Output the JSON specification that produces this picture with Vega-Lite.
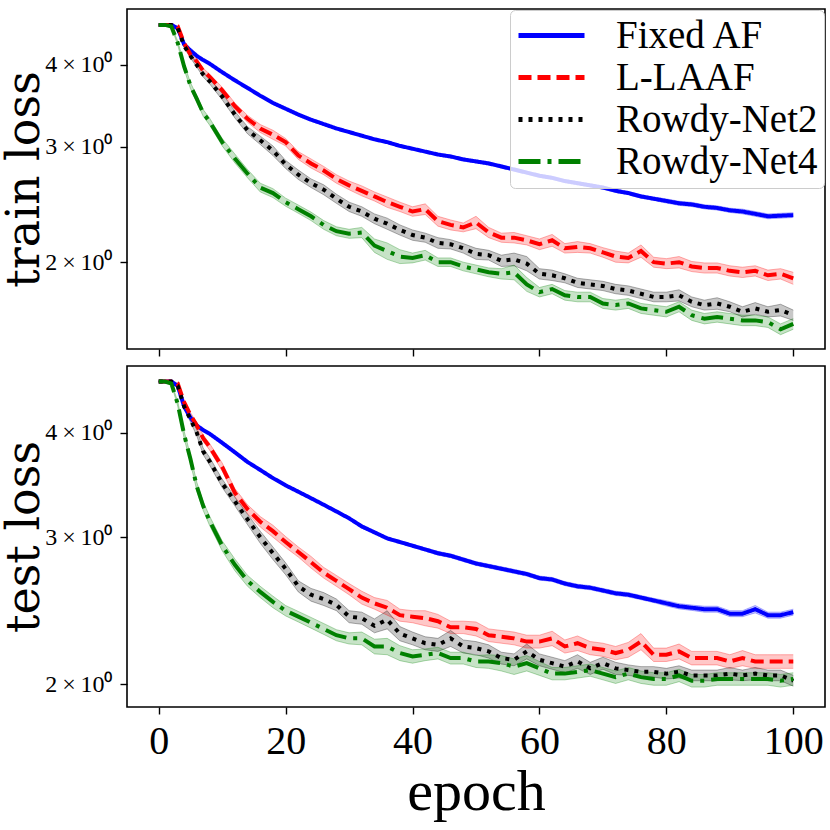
{
  "$schema": "https://vega.github.io/schema/vega-lite/v6.json",
  "background": "white",
  "padding": {"left": 0, "top": 8, "right": 7, "bottom": 0},
  "datasets": {
    "train": [
      {"model": "Fixed AF", "epoch": 0, "loss": 4.605, "err": 0},
      {"model": "Fixed AF", "epoch": 1, "loss": 4.605, "err": 0},
      {"model": "Fixed AF", "epoch": 2, "loss": 4.605, "err": 0},
      {"model": "Fixed AF", "epoch": 3, "loss": 4.55, "err": 0.005},
      {"model": "Fixed AF", "epoch": 4, "loss": 4.30, "err": 0.01},
      {"model": "Fixed AF", "epoch": 5, "loss": 4.21, "err": 0.012},
      {"model": "Fixed AF", "epoch": 6, "loss": 4.13, "err": 0.012},
      {"model": "Fixed AF", "epoch": 7, "loss": 4.07, "err": 0.012},
      {"model": "Fixed AF", "epoch": 8, "loss": 4.02, "err": 0.012},
      {"model": "Fixed AF", "epoch": 10, "loss": 3.90, "err": 0.012},
      {"model": "Fixed AF", "epoch": 12, "loss": 3.79, "err": 0.012},
      {"model": "Fixed AF", "epoch": 14, "loss": 3.69, "err": 0.012},
      {"model": "Fixed AF", "epoch": 16, "loss": 3.59, "err": 0.012},
      {"model": "Fixed AF", "epoch": 18, "loss": 3.50, "err": 0.012},
      {"model": "Fixed AF", "epoch": 20, "loss": 3.43, "err": 0.012},
      {"model": "Fixed AF", "epoch": 22, "loss": 3.36, "err": 0.012},
      {"model": "Fixed AF", "epoch": 24, "loss": 3.30, "err": 0.012},
      {"model": "Fixed AF", "epoch": 26, "loss": 3.25, "err": 0.012},
      {"model": "Fixed AF", "epoch": 28, "loss": 3.20, "err": 0.012},
      {"model": "Fixed AF", "epoch": 30, "loss": 3.16, "err": 0.012},
      {"model": "Fixed AF", "epoch": 32, "loss": 3.12, "err": 0.012},
      {"model": "Fixed AF", "epoch": 34, "loss": 3.08, "err": 0.012},
      {"model": "Fixed AF", "epoch": 36, "loss": 3.05, "err": 0.012},
      {"model": "Fixed AF", "epoch": 38, "loss": 3.01, "err": 0.012},
      {"model": "Fixed AF", "epoch": 40, "loss": 2.98, "err": 0.012},
      {"model": "Fixed AF", "epoch": 42, "loss": 2.95, "err": 0.012},
      {"model": "Fixed AF", "epoch": 44, "loss": 2.92, "err": 0.012},
      {"model": "Fixed AF", "epoch": 46, "loss": 2.90, "err": 0.015},
      {"model": "Fixed AF", "epoch": 48, "loss": 2.87, "err": 0.015},
      {"model": "Fixed AF", "epoch": 50, "loss": 2.85, "err": 0.015},
      {"model": "Fixed AF", "epoch": 52, "loss": 2.83, "err": 0.015},
      {"model": "Fixed AF", "epoch": 54, "loss": 2.80, "err": 0.015},
      {"model": "Fixed AF", "epoch": 56, "loss": 2.77, "err": 0.015},
      {"model": "Fixed AF", "epoch": 58, "loss": 2.74, "err": 0.015},
      {"model": "Fixed AF", "epoch": 60, "loss": 2.71, "err": 0.015},
      {"model": "Fixed AF", "epoch": 62, "loss": 2.69, "err": 0.015},
      {"model": "Fixed AF", "epoch": 64, "loss": 2.66, "err": 0.015},
      {"model": "Fixed AF", "epoch": 66, "loss": 2.64, "err": 0.015},
      {"model": "Fixed AF", "epoch": 68, "loss": 2.62, "err": 0.015},
      {"model": "Fixed AF", "epoch": 70, "loss": 2.60, "err": 0.015},
      {"model": "Fixed AF", "epoch": 72, "loss": 2.57, "err": 0.015},
      {"model": "Fixed AF", "epoch": 74, "loss": 2.55, "err": 0.015},
      {"model": "Fixed AF", "epoch": 76, "loss": 2.52, "err": 0.015},
      {"model": "Fixed AF", "epoch": 78, "loss": 2.50, "err": 0.015},
      {"model": "Fixed AF", "epoch": 80, "loss": 2.48, "err": 0.018},
      {"model": "Fixed AF", "epoch": 82, "loss": 2.46, "err": 0.018},
      {"model": "Fixed AF", "epoch": 84, "loss": 2.45, "err": 0.018},
      {"model": "Fixed AF", "epoch": 86, "loss": 2.43, "err": 0.018},
      {"model": "Fixed AF", "epoch": 88, "loss": 2.42, "err": 0.018},
      {"model": "Fixed AF", "epoch": 90, "loss": 2.40, "err": 0.018},
      {"model": "Fixed AF", "epoch": 92, "loss": 2.39, "err": 0.02},
      {"model": "Fixed AF", "epoch": 94, "loss": 2.37, "err": 0.02},
      {"model": "Fixed AF", "epoch": 96, "loss": 2.35, "err": 0.02},
      {"model": "Fixed AF", "epoch": 98, "loss": 2.355, "err": 0.02},
      {"model": "Fixed AF", "epoch": 100, "loss": 2.36, "err": 0.02},
      {"model": "L-LAAF", "epoch": 0, "loss": 4.605, "err": 0},
      {"model": "L-LAAF", "epoch": 1, "loss": 4.605, "err": 0},
      {"model": "L-LAAF", "epoch": 2, "loss": 4.605, "err": 0},
      {"model": "L-LAAF", "epoch": 3, "loss": 4.58, "err": 0.01},
      {"model": "L-LAAF", "epoch": 4, "loss": 4.32, "err": 0.03},
      {"model": "L-LAAF", "epoch": 5, "loss": 4.15, "err": 0.03},
      {"model": "L-LAAF", "epoch": 6, "loss": 4.05, "err": 0.03},
      {"model": "L-LAAF", "epoch": 7, "loss": 3.92, "err": 0.035},
      {"model": "L-LAAF", "epoch": 8, "loss": 3.84, "err": 0.035},
      {"model": "L-LAAF", "epoch": 10, "loss": 3.66, "err": 0.04},
      {"model": "L-LAAF", "epoch": 12, "loss": 3.46, "err": 0.04},
      {"model": "L-LAAF", "epoch": 14, "loss": 3.31, "err": 0.04},
      {"model": "L-LAAF", "epoch": 16, "loss": 3.20, "err": 0.045},
      {"model": "L-LAAF", "epoch": 18, "loss": 3.13, "err": 0.05},
      {"model": "L-LAAF", "epoch": 20, "loss": 3.05, "err": 0.04},
      {"model": "L-LAAF", "epoch": 22, "loss": 2.91, "err": 0.04},
      {"model": "L-LAAF", "epoch": 24, "loss": 2.83, "err": 0.045},
      {"model": "L-LAAF", "epoch": 26, "loss": 2.76, "err": 0.04},
      {"model": "L-LAAF", "epoch": 28, "loss": 2.68, "err": 0.04},
      {"model": "L-LAAF", "epoch": 30, "loss": 2.62, "err": 0.04},
      {"model": "L-LAAF", "epoch": 32, "loss": 2.57, "err": 0.045},
      {"model": "L-LAAF", "epoch": 34, "loss": 2.52, "err": 0.04},
      {"model": "L-LAAF", "epoch": 36, "loss": 2.47, "err": 0.045},
      {"model": "L-LAAF", "epoch": 38, "loss": 2.43, "err": 0.04},
      {"model": "L-LAAF", "epoch": 40, "loss": 2.39, "err": 0.04},
      {"model": "L-LAAF", "epoch": 42, "loss": 2.41, "err": 0.045},
      {"model": "L-LAAF", "epoch": 44, "loss": 2.31, "err": 0.04},
      {"model": "L-LAAF", "epoch": 46, "loss": 2.28, "err": 0.04},
      {"model": "L-LAAF", "epoch": 48, "loss": 2.26, "err": 0.035},
      {"model": "L-LAAF", "epoch": 50, "loss": 2.30, "err": 0.05},
      {"model": "L-LAAF", "epoch": 52, "loss": 2.22, "err": 0.04},
      {"model": "L-LAAF", "epoch": 54, "loss": 2.18, "err": 0.035},
      {"model": "L-LAAF", "epoch": 56, "loss": 2.18, "err": 0.04},
      {"model": "L-LAAF", "epoch": 58, "loss": 2.16, "err": 0.035},
      {"model": "L-LAAF", "epoch": 60, "loss": 2.13, "err": 0.04},
      {"model": "L-LAAF", "epoch": 62, "loss": 2.16, "err": 0.045},
      {"model": "L-LAAF", "epoch": 64, "loss": 2.10, "err": 0.035},
      {"model": "L-LAAF", "epoch": 66, "loss": 2.11, "err": 0.04},
      {"model": "L-LAAF", "epoch": 68, "loss": 2.10, "err": 0.035},
      {"model": "L-LAAF", "epoch": 70, "loss": 2.07, "err": 0.035},
      {"model": "L-LAAF", "epoch": 72, "loss": 2.04, "err": 0.04},
      {"model": "L-LAAF", "epoch": 74, "loss": 2.03, "err": 0.035},
      {"model": "L-LAAF", "epoch": 76, "loss": 2.08, "err": 0.045},
      {"model": "L-LAAF", "epoch": 78, "loss": 2.00, "err": 0.035},
      {"model": "L-LAAF", "epoch": 80, "loss": 1.99, "err": 0.035},
      {"model": "L-LAAF", "epoch": 82, "loss": 2.00, "err": 0.04},
      {"model": "L-LAAF", "epoch": 84, "loss": 1.97, "err": 0.035},
      {"model": "L-LAAF", "epoch": 86, "loss": 1.96, "err": 0.035},
      {"model": "L-LAAF", "epoch": 88, "loss": 1.96, "err": 0.035},
      {"model": "L-LAAF", "epoch": 90, "loss": 1.94, "err": 0.035},
      {"model": "L-LAAF", "epoch": 92, "loss": 1.93, "err": 0.035},
      {"model": "L-LAAF", "epoch": 94, "loss": 1.94, "err": 0.035},
      {"model": "L-LAAF", "epoch": 96, "loss": 1.91, "err": 0.035},
      {"model": "L-LAAF", "epoch": 98, "loss": 1.92, "err": 0.035},
      {"model": "L-LAAF", "epoch": 100, "loss": 1.89, "err": 0.04},
      {"model": "Rowdy-Net2", "epoch": 0, "loss": 4.605, "err": 0},
      {"model": "Rowdy-Net2", "epoch": 1, "loss": 4.605, "err": 0},
      {"model": "Rowdy-Net2", "epoch": 2, "loss": 4.605, "err": 0},
      {"model": "Rowdy-Net2", "epoch": 3, "loss": 4.55, "err": 0.01},
      {"model": "Rowdy-Net2", "epoch": 4, "loss": 4.28, "err": 0.03},
      {"model": "Rowdy-Net2", "epoch": 5, "loss": 4.13, "err": 0.03},
      {"model": "Rowdy-Net2", "epoch": 6, "loss": 4.00, "err": 0.03},
      {"model": "Rowdy-Net2", "epoch": 7, "loss": 3.87, "err": 0.035},
      {"model": "Rowdy-Net2", "epoch": 8, "loss": 3.78, "err": 0.035},
      {"model": "Rowdy-Net2", "epoch": 10, "loss": 3.58, "err": 0.04},
      {"model": "Rowdy-Net2", "epoch": 12, "loss": 3.36, "err": 0.04},
      {"model": "Rowdy-Net2", "epoch": 14, "loss": 3.18, "err": 0.04},
      {"model": "Rowdy-Net2", "epoch": 16, "loss": 3.07, "err": 0.045},
      {"model": "Rowdy-Net2", "epoch": 18, "loss": 2.96, "err": 0.05},
      {"model": "Rowdy-Net2", "epoch": 20, "loss": 2.82, "err": 0.04},
      {"model": "Rowdy-Net2", "epoch": 22, "loss": 2.72, "err": 0.045},
      {"model": "Rowdy-Net2", "epoch": 24, "loss": 2.64, "err": 0.04},
      {"model": "Rowdy-Net2", "epoch": 26, "loss": 2.58, "err": 0.045},
      {"model": "Rowdy-Net2", "epoch": 28, "loss": 2.50, "err": 0.04},
      {"model": "Rowdy-Net2", "epoch": 30, "loss": 2.43, "err": 0.04},
      {"model": "Rowdy-Net2", "epoch": 32, "loss": 2.39, "err": 0.04},
      {"model": "Rowdy-Net2", "epoch": 34, "loss": 2.33, "err": 0.04},
      {"model": "Rowdy-Net2", "epoch": 36, "loss": 2.29, "err": 0.045},
      {"model": "Rowdy-Net2", "epoch": 38, "loss": 2.24, "err": 0.04},
      {"model": "Rowdy-Net2", "epoch": 40, "loss": 2.20, "err": 0.04},
      {"model": "Rowdy-Net2", "epoch": 42, "loss": 2.18, "err": 0.035},
      {"model": "Rowdy-Net2", "epoch": 44, "loss": 2.14, "err": 0.04},
      {"model": "Rowdy-Net2", "epoch": 46, "loss": 2.13, "err": 0.035},
      {"model": "Rowdy-Net2", "epoch": 48, "loss": 2.10, "err": 0.035},
      {"model": "Rowdy-Net2", "epoch": 50, "loss": 2.06, "err": 0.04},
      {"model": "Rowdy-Net2", "epoch": 52, "loss": 2.05, "err": 0.035},
      {"model": "Rowdy-Net2", "epoch": 54, "loss": 2.01, "err": 0.04},
      {"model": "Rowdy-Net2", "epoch": 56, "loss": 2.02, "err": 0.045},
      {"model": "Rowdy-Net2", "epoch": 58, "loss": 1.99, "err": 0.05},
      {"model": "Rowdy-Net2", "epoch": 60, "loss": 1.92, "err": 0.035},
      {"model": "Rowdy-Net2", "epoch": 62, "loss": 1.91, "err": 0.035},
      {"model": "Rowdy-Net2", "epoch": 64, "loss": 1.89, "err": 0.03},
      {"model": "Rowdy-Net2", "epoch": 66, "loss": 1.86, "err": 0.03},
      {"model": "Rowdy-Net2", "epoch": 68, "loss": 1.85, "err": 0.03},
      {"model": "Rowdy-Net2", "epoch": 70, "loss": 1.84, "err": 0.03},
      {"model": "Rowdy-Net2", "epoch": 72, "loss": 1.82, "err": 0.03},
      {"model": "Rowdy-Net2", "epoch": 74, "loss": 1.81, "err": 0.03},
      {"model": "Rowdy-Net2", "epoch": 76, "loss": 1.79, "err": 0.03},
      {"model": "Rowdy-Net2", "epoch": 78, "loss": 1.77, "err": 0.03},
      {"model": "Rowdy-Net2", "epoch": 80, "loss": 1.77, "err": 0.03},
      {"model": "Rowdy-Net2", "epoch": 82, "loss": 1.78, "err": 0.035},
      {"model": "Rowdy-Net2", "epoch": 84, "loss": 1.74, "err": 0.03},
      {"model": "Rowdy-Net2", "epoch": 86, "loss": 1.72, "err": 0.03},
      {"model": "Rowdy-Net2", "epoch": 88, "loss": 1.73, "err": 0.035},
      {"model": "Rowdy-Net2", "epoch": 90, "loss": 1.71, "err": 0.03},
      {"model": "Rowdy-Net2", "epoch": 92, "loss": 1.68, "err": 0.03},
      {"model": "Rowdy-Net2", "epoch": 94, "loss": 1.70, "err": 0.035},
      {"model": "Rowdy-Net2", "epoch": 96, "loss": 1.68, "err": 0.03},
      {"model": "Rowdy-Net2", "epoch": 98, "loss": 1.69, "err": 0.035},
      {"model": "Rowdy-Net2", "epoch": 100, "loss": 1.66, "err": 0.03},
      {"model": "Rowdy-Net4", "epoch": 0, "loss": 4.605, "err": 0},
      {"model": "Rowdy-Net4", "epoch": 1, "loss": 4.605, "err": 0},
      {"model": "Rowdy-Net4", "epoch": 2, "loss": 4.58, "err": 0.01},
      {"model": "Rowdy-Net4", "epoch": 3, "loss": 4.32, "err": 0.03},
      {"model": "Rowdy-Net4", "epoch": 4, "loss": 3.98, "err": 0.04},
      {"model": "Rowdy-Net4", "epoch": 5, "loss": 3.72, "err": 0.04},
      {"model": "Rowdy-Net4", "epoch": 6, "loss": 3.55, "err": 0.04},
      {"model": "Rowdy-Net4", "epoch": 7, "loss": 3.38, "err": 0.04},
      {"model": "Rowdy-Net4", "epoch": 8, "loss": 3.28, "err": 0.04},
      {"model": "Rowdy-Net4", "epoch": 10, "loss": 3.05, "err": 0.04},
      {"model": "Rowdy-Net4", "epoch": 12, "loss": 2.88, "err": 0.045},
      {"model": "Rowdy-Net4", "epoch": 14, "loss": 2.73, "err": 0.04},
      {"model": "Rowdy-Net4", "epoch": 16, "loss": 2.60, "err": 0.04},
      {"model": "Rowdy-Net4", "epoch": 18, "loss": 2.55, "err": 0.04},
      {"model": "Rowdy-Net4", "epoch": 20, "loss": 2.47, "err": 0.035},
      {"model": "Rowdy-Net4", "epoch": 22, "loss": 2.41, "err": 0.035},
      {"model": "Rowdy-Net4", "epoch": 24, "loss": 2.35, "err": 0.035},
      {"model": "Rowdy-Net4", "epoch": 26, "loss": 2.28, "err": 0.035},
      {"model": "Rowdy-Net4", "epoch": 28, "loss": 2.23, "err": 0.035},
      {"model": "Rowdy-Net4", "epoch": 30, "loss": 2.21, "err": 0.035},
      {"model": "Rowdy-Net4", "epoch": 32, "loss": 2.22, "err": 0.04},
      {"model": "Rowdy-Net4", "epoch": 34, "loss": 2.12, "err": 0.05},
      {"model": "Rowdy-Net4", "epoch": 36, "loss": 2.08, "err": 0.06},
      {"model": "Rowdy-Net4", "epoch": 38, "loss": 2.04, "err": 0.05},
      {"model": "Rowdy-Net4", "epoch": 40, "loss": 2.03, "err": 0.035},
      {"model": "Rowdy-Net4", "epoch": 42, "loss": 2.05, "err": 0.035},
      {"model": "Rowdy-Net4", "epoch": 44, "loss": 2.00, "err": 0.03},
      {"model": "Rowdy-Net4", "epoch": 46, "loss": 2.00, "err": 0.03},
      {"model": "Rowdy-Net4", "epoch": 48, "loss": 1.97, "err": 0.03},
      {"model": "Rowdy-Net4", "epoch": 50, "loss": 1.95, "err": 0.03},
      {"model": "Rowdy-Net4", "epoch": 52, "loss": 1.93, "err": 0.03},
      {"model": "Rowdy-Net4", "epoch": 54, "loss": 1.92, "err": 0.035},
      {"model": "Rowdy-Net4", "epoch": 56, "loss": 1.93, "err": 0.05},
      {"model": "Rowdy-Net4", "epoch": 58, "loss": 1.85, "err": 0.045},
      {"model": "Rowdy-Net4", "epoch": 60, "loss": 1.80, "err": 0.03},
      {"model": "Rowdy-Net4", "epoch": 62, "loss": 1.82, "err": 0.03},
      {"model": "Rowdy-Net4", "epoch": 64, "loss": 1.78, "err": 0.03},
      {"model": "Rowdy-Net4", "epoch": 66, "loss": 1.77, "err": 0.03},
      {"model": "Rowdy-Net4", "epoch": 68, "loss": 1.77, "err": 0.03},
      {"model": "Rowdy-Net4", "epoch": 70, "loss": 1.73, "err": 0.03},
      {"model": "Rowdy-Net4", "epoch": 72, "loss": 1.72, "err": 0.03},
      {"model": "Rowdy-Net4", "epoch": 74, "loss": 1.73, "err": 0.03},
      {"model": "Rowdy-Net4", "epoch": 76, "loss": 1.70, "err": 0.03},
      {"model": "Rowdy-Net4", "epoch": 78, "loss": 1.69, "err": 0.03},
      {"model": "Rowdy-Net4", "epoch": 80, "loss": 1.68, "err": 0.03},
      {"model": "Rowdy-Net4", "epoch": 82, "loss": 1.71, "err": 0.03},
      {"model": "Rowdy-Net4", "epoch": 84, "loss": 1.66, "err": 0.03},
      {"model": "Rowdy-Net4", "epoch": 86, "loss": 1.64, "err": 0.03},
      {"model": "Rowdy-Net4", "epoch": 88, "loss": 1.65, "err": 0.03},
      {"model": "Rowdy-Net4", "epoch": 90, "loss": 1.64, "err": 0.03},
      {"model": "Rowdy-Net4", "epoch": 92, "loss": 1.63, "err": 0.03},
      {"model": "Rowdy-Net4", "epoch": 94, "loss": 1.63, "err": 0.03},
      {"model": "Rowdy-Net4", "epoch": 96, "loss": 1.62, "err": 0.03},
      {"model": "Rowdy-Net4", "epoch": 98, "loss": 1.58, "err": 0.03},
      {"model": "Rowdy-Net4", "epoch": 100, "loss": 1.61, "err": 0.03}
    ],
    "test": [
      {"model": "Fixed AF", "epoch": 0, "loss": 4.605, "err": 0},
      {"model": "Fixed AF", "epoch": 1, "loss": 4.605, "err": 0},
      {"model": "Fixed AF", "epoch": 2, "loss": 4.605, "err": 0},
      {"model": "Fixed AF", "epoch": 3, "loss": 4.55, "err": 0.005},
      {"model": "Fixed AF", "epoch": 4, "loss": 4.30, "err": 0.01},
      {"model": "Fixed AF", "epoch": 5, "loss": 4.17, "err": 0.012},
      {"model": "Fixed AF", "epoch": 6, "loss": 4.08, "err": 0.012},
      {"model": "Fixed AF", "epoch": 7, "loss": 4.03, "err": 0.012},
      {"model": "Fixed AF", "epoch": 8, "loss": 3.99, "err": 0.012},
      {"model": "Fixed AF", "epoch": 10, "loss": 3.89, "err": 0.012},
      {"model": "Fixed AF", "epoch": 12, "loss": 3.79, "err": 0.012},
      {"model": "Fixed AF", "epoch": 14, "loss": 3.69, "err": 0.012},
      {"model": "Fixed AF", "epoch": 16, "loss": 3.61, "err": 0.012},
      {"model": "Fixed AF", "epoch": 18, "loss": 3.53, "err": 0.012},
      {"model": "Fixed AF", "epoch": 20, "loss": 3.46, "err": 0.012},
      {"model": "Fixed AF", "epoch": 22, "loss": 3.40, "err": 0.012},
      {"model": "Fixed AF", "epoch": 24, "loss": 3.34, "err": 0.012},
      {"model": "Fixed AF", "epoch": 26, "loss": 3.28, "err": 0.012},
      {"model": "Fixed AF", "epoch": 28, "loss": 3.22, "err": 0.012},
      {"model": "Fixed AF", "epoch": 30, "loss": 3.16, "err": 0.012},
      {"model": "Fixed AF", "epoch": 32, "loss": 3.09, "err": 0.015},
      {"model": "Fixed AF", "epoch": 34, "loss": 3.04, "err": 0.012},
      {"model": "Fixed AF", "epoch": 36, "loss": 2.99, "err": 0.012},
      {"model": "Fixed AF", "epoch": 38, "loss": 2.96, "err": 0.012},
      {"model": "Fixed AF", "epoch": 40, "loss": 2.93, "err": 0.012},
      {"model": "Fixed AF", "epoch": 42, "loss": 2.90, "err": 0.012},
      {"model": "Fixed AF", "epoch": 44, "loss": 2.87, "err": 0.015},
      {"model": "Fixed AF", "epoch": 46, "loss": 2.85, "err": 0.015},
      {"model": "Fixed AF", "epoch": 48, "loss": 2.82, "err": 0.015},
      {"model": "Fixed AF", "epoch": 50, "loss": 2.79, "err": 0.015},
      {"model": "Fixed AF", "epoch": 52, "loss": 2.77, "err": 0.015},
      {"model": "Fixed AF", "epoch": 54, "loss": 2.75, "err": 0.015},
      {"model": "Fixed AF", "epoch": 56, "loss": 2.73, "err": 0.015},
      {"model": "Fixed AF", "epoch": 58, "loss": 2.71, "err": 0.015},
      {"model": "Fixed AF", "epoch": 60, "loss": 2.68, "err": 0.015},
      {"model": "Fixed AF", "epoch": 62, "loss": 2.67, "err": 0.015},
      {"model": "Fixed AF", "epoch": 64, "loss": 2.64, "err": 0.015},
      {"model": "Fixed AF", "epoch": 66, "loss": 2.62, "err": 0.015},
      {"model": "Fixed AF", "epoch": 68, "loss": 2.61, "err": 0.015},
      {"model": "Fixed AF", "epoch": 70, "loss": 2.59, "err": 0.015},
      {"model": "Fixed AF", "epoch": 72, "loss": 2.57, "err": 0.015},
      {"model": "Fixed AF", "epoch": 74, "loss": 2.56, "err": 0.015},
      {"model": "Fixed AF", "epoch": 76, "loss": 2.54, "err": 0.015},
      {"model": "Fixed AF", "epoch": 78, "loss": 2.52, "err": 0.015},
      {"model": "Fixed AF", "epoch": 80, "loss": 2.50, "err": 0.018},
      {"model": "Fixed AF", "epoch": 82, "loss": 2.48, "err": 0.018},
      {"model": "Fixed AF", "epoch": 84, "loss": 2.47, "err": 0.018},
      {"model": "Fixed AF", "epoch": 86, "loss": 2.46, "err": 0.02},
      {"model": "Fixed AF", "epoch": 88, "loss": 2.46, "err": 0.02},
      {"model": "Fixed AF", "epoch": 90, "loss": 2.43, "err": 0.02},
      {"model": "Fixed AF", "epoch": 92, "loss": 2.43, "err": 0.02},
      {"model": "Fixed AF", "epoch": 94, "loss": 2.46, "err": 0.025},
      {"model": "Fixed AF", "epoch": 96, "loss": 2.42, "err": 0.02},
      {"model": "Fixed AF", "epoch": 98, "loss": 2.42, "err": 0.02},
      {"model": "Fixed AF", "epoch": 100, "loss": 2.44, "err": 0.02},
      {"model": "L-LAAF", "epoch": 0, "loss": 4.605, "err": 0},
      {"model": "L-LAAF", "epoch": 1, "loss": 4.605, "err": 0},
      {"model": "L-LAAF", "epoch": 2, "loss": 4.605, "err": 0},
      {"model": "L-LAAF", "epoch": 3, "loss": 4.58, "err": 0.01},
      {"model": "L-LAAF", "epoch": 4, "loss": 4.35, "err": 0.03},
      {"model": "L-LAAF", "epoch": 5, "loss": 4.20, "err": 0.03},
      {"model": "L-LAAF", "epoch": 6, "loss": 4.08, "err": 0.03},
      {"model": "L-LAAF", "epoch": 7, "loss": 3.94, "err": 0.035},
      {"model": "L-LAAF", "epoch": 8, "loss": 3.85, "err": 0.035},
      {"model": "L-LAAF", "epoch": 10, "loss": 3.64, "err": 0.04},
      {"model": "L-LAAF", "epoch": 12, "loss": 3.39, "err": 0.04},
      {"model": "L-LAAF", "epoch": 14, "loss": 3.24, "err": 0.04},
      {"model": "L-LAAF", "epoch": 16, "loss": 3.13, "err": 0.045},
      {"model": "L-LAAF", "epoch": 18, "loss": 3.05, "err": 0.05},
      {"model": "L-LAAF", "epoch": 20, "loss": 2.96, "err": 0.045},
      {"model": "L-LAAF", "epoch": 22, "loss": 2.88, "err": 0.04},
      {"model": "L-LAAF", "epoch": 24, "loss": 2.80, "err": 0.045},
      {"model": "L-LAAF", "epoch": 26, "loss": 2.72, "err": 0.04},
      {"model": "L-LAAF", "epoch": 28, "loss": 2.66, "err": 0.04},
      {"model": "L-LAAF", "epoch": 30, "loss": 2.60, "err": 0.04},
      {"model": "L-LAAF", "epoch": 32, "loss": 2.54, "err": 0.045},
      {"model": "L-LAAF", "epoch": 34, "loss": 2.50, "err": 0.04},
      {"model": "L-LAAF", "epoch": 36, "loss": 2.47, "err": 0.05},
      {"model": "L-LAAF", "epoch": 38, "loss": 2.42, "err": 0.04},
      {"model": "L-LAAF", "epoch": 40, "loss": 2.41, "err": 0.04},
      {"model": "L-LAAF", "epoch": 42, "loss": 2.40, "err": 0.05},
      {"model": "L-LAAF", "epoch": 44, "loss": 2.38, "err": 0.045},
      {"model": "L-LAAF", "epoch": 46, "loss": 2.34, "err": 0.04},
      {"model": "L-LAAF", "epoch": 48, "loss": 2.34, "err": 0.04},
      {"model": "L-LAAF", "epoch": 50, "loss": 2.33, "err": 0.045},
      {"model": "L-LAAF", "epoch": 52, "loss": 2.29, "err": 0.04},
      {"model": "L-LAAF", "epoch": 54, "loss": 2.28, "err": 0.04},
      {"model": "L-LAAF", "epoch": 56, "loss": 2.27, "err": 0.04},
      {"model": "L-LAAF", "epoch": 58, "loss": 2.25, "err": 0.04},
      {"model": "L-LAAF", "epoch": 60, "loss": 2.25, "err": 0.04},
      {"model": "L-LAAF", "epoch": 62, "loss": 2.27, "err": 0.045},
      {"model": "L-LAAF", "epoch": 64, "loss": 2.22, "err": 0.04},
      {"model": "L-LAAF", "epoch": 66, "loss": 2.24, "err": 0.045},
      {"model": "L-LAAF", "epoch": 68, "loss": 2.21, "err": 0.04},
      {"model": "L-LAAF", "epoch": 70, "loss": 2.20, "err": 0.04},
      {"model": "L-LAAF", "epoch": 72, "loss": 2.18, "err": 0.04},
      {"model": "L-LAAF", "epoch": 74, "loss": 2.20, "err": 0.045},
      {"model": "L-LAAF", "epoch": 76, "loss": 2.25, "err": 0.05},
      {"model": "L-LAAF", "epoch": 78, "loss": 2.17, "err": 0.04},
      {"model": "L-LAAF", "epoch": 80, "loss": 2.17, "err": 0.04},
      {"model": "L-LAAF", "epoch": 82, "loss": 2.19, "err": 0.045},
      {"model": "L-LAAF", "epoch": 84, "loss": 2.15, "err": 0.04},
      {"model": "L-LAAF", "epoch": 86, "loss": 2.15, "err": 0.04},
      {"model": "L-LAAF", "epoch": 88, "loss": 2.15, "err": 0.04},
      {"model": "L-LAAF", "epoch": 90, "loss": 2.13, "err": 0.04},
      {"model": "L-LAAF", "epoch": 92, "loss": 2.15, "err": 0.045},
      {"model": "L-LAAF", "epoch": 94, "loss": 2.13, "err": 0.04},
      {"model": "L-LAAF", "epoch": 96, "loss": 2.13, "err": 0.04},
      {"model": "L-LAAF", "epoch": 98, "loss": 2.13, "err": 0.04},
      {"model": "L-LAAF", "epoch": 100, "loss": 2.13, "err": 0.04},
      {"model": "Rowdy-Net2", "epoch": 0, "loss": 4.605, "err": 0},
      {"model": "Rowdy-Net2", "epoch": 1, "loss": 4.605, "err": 0},
      {"model": "Rowdy-Net2", "epoch": 2, "loss": 4.605, "err": 0},
      {"model": "Rowdy-Net2", "epoch": 3, "loss": 4.55, "err": 0.01},
      {"model": "Rowdy-Net2", "epoch": 4, "loss": 4.30, "err": 0.03},
      {"model": "Rowdy-Net2", "epoch": 5, "loss": 4.15, "err": 0.03},
      {"model": "Rowdy-Net2", "epoch": 6, "loss": 4.00, "err": 0.035},
      {"model": "Rowdy-Net2", "epoch": 7, "loss": 3.80, "err": 0.035},
      {"model": "Rowdy-Net2", "epoch": 8, "loss": 3.70, "err": 0.04},
      {"model": "Rowdy-Net2", "epoch": 10, "loss": 3.48, "err": 0.04},
      {"model": "Rowdy-Net2", "epoch": 12, "loss": 3.31, "err": 0.04},
      {"model": "Rowdy-Net2", "epoch": 14, "loss": 3.15, "err": 0.045},
      {"model": "Rowdy-Net2", "epoch": 16, "loss": 3.00, "err": 0.05},
      {"model": "Rowdy-Net2", "epoch": 18, "loss": 2.87, "err": 0.05},
      {"model": "Rowdy-Net2", "epoch": 20, "loss": 2.75, "err": 0.045},
      {"model": "Rowdy-Net2", "epoch": 22, "loss": 2.62, "err": 0.04},
      {"model": "Rowdy-Net2", "epoch": 24, "loss": 2.56, "err": 0.045},
      {"model": "Rowdy-Net2", "epoch": 26, "loss": 2.53, "err": 0.045},
      {"model": "Rowdy-Net2", "epoch": 28, "loss": 2.49, "err": 0.04},
      {"model": "Rowdy-Net2", "epoch": 30, "loss": 2.41, "err": 0.04},
      {"model": "Rowdy-Net2", "epoch": 32, "loss": 2.40, "err": 0.04},
      {"model": "Rowdy-Net2", "epoch": 34, "loss": 2.35, "err": 0.045},
      {"model": "Rowdy-Net2", "epoch": 36, "loss": 2.39, "err": 0.06},
      {"model": "Rowdy-Net2", "epoch": 38, "loss": 2.30, "err": 0.045},
      {"model": "Rowdy-Net2", "epoch": 40, "loss": 2.27, "err": 0.04},
      {"model": "Rowdy-Net2", "epoch": 42, "loss": 2.24, "err": 0.04},
      {"model": "Rowdy-Net2", "epoch": 44, "loss": 2.23, "err": 0.04},
      {"model": "Rowdy-Net2", "epoch": 46, "loss": 2.27, "err": 0.05},
      {"model": "Rowdy-Net2", "epoch": 48, "loss": 2.22, "err": 0.04},
      {"model": "Rowdy-Net2", "epoch": 50, "loss": 2.21, "err": 0.04},
      {"model": "Rowdy-Net2", "epoch": 52, "loss": 2.19, "err": 0.04},
      {"model": "Rowdy-Net2", "epoch": 54, "loss": 2.15, "err": 0.035},
      {"model": "Rowdy-Net2", "epoch": 56, "loss": 2.14, "err": 0.035},
      {"model": "Rowdy-Net2", "epoch": 58, "loss": 2.19, "err": 0.045},
      {"model": "Rowdy-Net2", "epoch": 60, "loss": 2.14, "err": 0.035},
      {"model": "Rowdy-Net2", "epoch": 62, "loss": 2.12, "err": 0.035},
      {"model": "Rowdy-Net2", "epoch": 64, "loss": 2.10, "err": 0.035},
      {"model": "Rowdy-Net2", "epoch": 66, "loss": 2.13, "err": 0.04},
      {"model": "Rowdy-Net2", "epoch": 68, "loss": 2.09, "err": 0.035},
      {"model": "Rowdy-Net2", "epoch": 70, "loss": 2.12, "err": 0.035},
      {"model": "Rowdy-Net2", "epoch": 72, "loss": 2.09, "err": 0.035},
      {"model": "Rowdy-Net2", "epoch": 74, "loss": 2.08, "err": 0.03},
      {"model": "Rowdy-Net2", "epoch": 76, "loss": 2.07, "err": 0.03},
      {"model": "Rowdy-Net2", "epoch": 78, "loss": 2.07, "err": 0.03},
      {"model": "Rowdy-Net2", "epoch": 80, "loss": 2.06, "err": 0.03},
      {"model": "Rowdy-Net2", "epoch": 82, "loss": 2.07, "err": 0.035},
      {"model": "Rowdy-Net2", "epoch": 84, "loss": 2.05, "err": 0.03},
      {"model": "Rowdy-Net2", "epoch": 86, "loss": 2.05, "err": 0.03},
      {"model": "Rowdy-Net2", "epoch": 88, "loss": 2.05, "err": 0.03},
      {"model": "Rowdy-Net2", "epoch": 90, "loss": 2.06, "err": 0.035},
      {"model": "Rowdy-Net2", "epoch": 92, "loss": 2.05, "err": 0.03},
      {"model": "Rowdy-Net2", "epoch": 94, "loss": 2.06, "err": 0.035},
      {"model": "Rowdy-Net2", "epoch": 96, "loss": 2.05, "err": 0.03},
      {"model": "Rowdy-Net2", "epoch": 98, "loss": 2.05, "err": 0.03},
      {"model": "Rowdy-Net2", "epoch": 100, "loss": 2.02, "err": 0.03},
      {"model": "Rowdy-Net4", "epoch": 0, "loss": 4.605, "err": 0},
      {"model": "Rowdy-Net4", "epoch": 1, "loss": 4.605, "err": 0},
      {"model": "Rowdy-Net4", "epoch": 2, "loss": 4.58, "err": 0.01},
      {"model": "Rowdy-Net4", "epoch": 3, "loss": 4.33, "err": 0.03},
      {"model": "Rowdy-Net4", "epoch": 4, "loss": 3.98, "err": 0.04},
      {"model": "Rowdy-Net4", "epoch": 5, "loss": 3.72, "err": 0.04},
      {"model": "Rowdy-Net4", "epoch": 6, "loss": 3.45, "err": 0.04},
      {"model": "Rowdy-Net4", "epoch": 7, "loss": 3.27, "err": 0.04},
      {"model": "Rowdy-Net4", "epoch": 8, "loss": 3.14, "err": 0.04},
      {"model": "Rowdy-Net4", "epoch": 10, "loss": 2.93, "err": 0.04},
      {"model": "Rowdy-Net4", "epoch": 12, "loss": 2.78, "err": 0.045},
      {"model": "Rowdy-Net4", "epoch": 14, "loss": 2.66, "err": 0.04},
      {"model": "Rowdy-Net4", "epoch": 16, "loss": 2.58, "err": 0.04},
      {"model": "Rowdy-Net4", "epoch": 18, "loss": 2.51, "err": 0.04},
      {"model": "Rowdy-Net4", "epoch": 20, "loss": 2.45, "err": 0.035},
      {"model": "Rowdy-Net4", "epoch": 22, "loss": 2.41, "err": 0.035},
      {"model": "Rowdy-Net4", "epoch": 24, "loss": 2.37, "err": 0.035},
      {"model": "Rowdy-Net4", "epoch": 26, "loss": 2.33, "err": 0.035},
      {"model": "Rowdy-Net4", "epoch": 28, "loss": 2.29, "err": 0.035},
      {"model": "Rowdy-Net4", "epoch": 30, "loss": 2.27, "err": 0.035},
      {"model": "Rowdy-Net4", "epoch": 32, "loss": 2.27, "err": 0.04},
      {"model": "Rowdy-Net4", "epoch": 34, "loss": 2.22, "err": 0.045},
      {"model": "Rowdy-Net4", "epoch": 36, "loss": 2.22, "err": 0.05},
      {"model": "Rowdy-Net4", "epoch": 38, "loss": 2.18, "err": 0.045},
      {"model": "Rowdy-Net4", "epoch": 40, "loss": 2.16, "err": 0.04},
      {"model": "Rowdy-Net4", "epoch": 42, "loss": 2.17, "err": 0.035},
      {"model": "Rowdy-Net4", "epoch": 44, "loss": 2.18, "err": 0.035},
      {"model": "Rowdy-Net4", "epoch": 46, "loss": 2.15, "err": 0.035},
      {"model": "Rowdy-Net4", "epoch": 48, "loss": 2.15, "err": 0.035},
      {"model": "Rowdy-Net4", "epoch": 50, "loss": 2.13, "err": 0.035},
      {"model": "Rowdy-Net4", "epoch": 52, "loss": 2.13, "err": 0.04},
      {"model": "Rowdy-Net4", "epoch": 54, "loss": 2.12, "err": 0.045},
      {"model": "Rowdy-Net4", "epoch": 56, "loss": 2.10, "err": 0.045},
      {"model": "Rowdy-Net4", "epoch": 58, "loss": 2.12, "err": 0.045},
      {"model": "Rowdy-Net4", "epoch": 60, "loss": 2.09, "err": 0.04},
      {"model": "Rowdy-Net4", "epoch": 62, "loss": 2.06, "err": 0.035},
      {"model": "Rowdy-Net4", "epoch": 64, "loss": 2.06, "err": 0.035},
      {"model": "Rowdy-Net4", "epoch": 66, "loss": 2.07, "err": 0.035},
      {"model": "Rowdy-Net4", "epoch": 68, "loss": 2.08, "err": 0.035},
      {"model": "Rowdy-Net4", "epoch": 70, "loss": 2.06, "err": 0.035},
      {"model": "Rowdy-Net4", "epoch": 72, "loss": 2.04, "err": 0.035},
      {"model": "Rowdy-Net4", "epoch": 74, "loss": 2.06, "err": 0.035},
      {"model": "Rowdy-Net4", "epoch": 76, "loss": 2.04, "err": 0.035},
      {"model": "Rowdy-Net4", "epoch": 78, "loss": 2.03, "err": 0.035},
      {"model": "Rowdy-Net4", "epoch": 80, "loss": 2.03, "err": 0.035},
      {"model": "Rowdy-Net4", "epoch": 82, "loss": 2.05, "err": 0.035},
      {"model": "Rowdy-Net4", "epoch": 84, "loss": 2.02, "err": 0.035},
      {"model": "Rowdy-Net4", "epoch": 86, "loss": 2.02, "err": 0.035},
      {"model": "Rowdy-Net4", "epoch": 88, "loss": 2.03, "err": 0.035},
      {"model": "Rowdy-Net4", "epoch": 90, "loss": 2.03, "err": 0.035},
      {"model": "Rowdy-Net4", "epoch": 92, "loss": 2.03, "err": 0.035},
      {"model": "Rowdy-Net4", "epoch": 94, "loss": 2.03, "err": 0.035},
      {"model": "Rowdy-Net4", "epoch": 96, "loss": 2.03, "err": 0.035},
      {"model": "Rowdy-Net4", "epoch": 98, "loss": 2.02, "err": 0.035},
      {"model": "Rowdy-Net4", "epoch": 100, "loss": 2.03, "err": 0.035}
    ]
  },
  "spacing": 7,
  "vconcat": [
    {
      "width": 698,
      "height": 340,
      "data": {"name": "train"},
      "layer": [
        {
          "mark": {"type": "errorband", "band": {"opacity": 0.22}, "borders": {"opacity": 0.3, "strokeWidth": 1}},
          "encoding": {
            "x": {"field": "epoch", "type": "quantitative", "scale": {"domain": [-5, 105], "nice": false, "zero": false},
                  "axis": {"values": [0, 20, 40, 60, 80, 100], "labels": false, "title": null}},
            "y": {"field": "loss", "type": "quantitative", "scale": {"type": "log", "domain": [1.474, 4.87], "nice": false},
                  "axis": {"values": [2, 3, 4], "labelExpr": "datum.value + '\u2009×\u200910⁰'", "title": "train loss"}},
            "yError": {"field": "err"},
            "color": {"field": "model", "type": "nominal",
                      "scale": {"domain": ["Fixed AF", "L-LAAF", "Rowdy-Net2", "Rowdy-Net4"], "range": ["#0000ff", "#ff0000", "#000000", "#008000"]}}
          }
        },
        {
          "mark": {"type": "line", "strokeWidth": 4},
          "encoding": {
            "x": {"field": "epoch", "type": "quantitative"},
            "y": {"field": "loss", "type": "quantitative"},
            "color": {"field": "model", "type": "nominal",
                      "scale": {"domain": ["Fixed AF", "L-LAAF", "Rowdy-Net2", "Rowdy-Net4"], "range": ["#0000ff", "#ff0000", "#000000", "#008000"]},
                      "legend": {"title": null, "orient": "top-right", "offset": 1}},
            "strokeDash": {"field": "model", "type": "nominal",
                           "scale": {"domain": ["Fixed AF", "L-LAAF", "Rowdy-Net2", "Rowdy-Net4"], "range": [[1, 0], [13, 6], [4, 6], [22, 7, 4, 7]]},
                           "legend": {"title": null, "orient": "top-right", "offset": 1}}
          }
        }
      ]
    },
    {
      "width": 698,
      "height": 341,
      "data": {"name": "test"},
      "layer": [
        {
          "mark": {"type": "errorband", "band": {"opacity": 0.22}, "borders": {"opacity": 0.3, "strokeWidth": 1}},
          "encoding": {
            "x": {"field": "epoch", "type": "quantitative", "scale": {"domain": [-5, 105], "nice": false, "zero": false},
                  "axis": {"values": [0, 20, 40, 60, 80, 100], "title": "epoch"}},
            "y": {"field": "loss", "type": "quantitative", "scale": {"type": "log", "domain": [1.879, 4.807], "nice": false},
                  "axis": {"values": [2, 3, 4], "labelExpr": "datum.value + '\u2009×\u200910⁰'", "title": "test loss"}},
            "yError": {"field": "err"},
            "color": {"field": "model", "type": "nominal", "legend": null,
                      "scale": {"domain": ["Fixed AF", "L-LAAF", "Rowdy-Net2", "Rowdy-Net4"], "range": ["#0000ff", "#ff0000", "#000000", "#008000"]}}
          }
        },
        {
          "mark": {"type": "line", "strokeWidth": 4},
          "encoding": {
            "x": {"field": "epoch", "type": "quantitative"},
            "y": {"field": "loss", "type": "quantitative"},
            "color": {"field": "model", "type": "nominal", "legend": null,
                      "scale": {"domain": ["Fixed AF", "L-LAAF", "Rowdy-Net2", "Rowdy-Net4"], "range": ["#0000ff", "#ff0000", "#000000", "#008000"]}},
            "strokeDash": {"field": "model", "type": "nominal", "legend": null,
                           "scale": {"domain": ["Fixed AF", "L-LAAF", "Rowdy-Net2", "Rowdy-Net4"], "range": [[1, 0], [13, 6], [4, 6], [22, 7, 4, 7]]}}
          }
        }
      ]
    }
  ],
  "resolve": {
    "scale": {"y": "independent", "color": "independent", "strokeDash": "independent"},
    "legend": {"color": "independent", "strokeDash": "independent"}
  },
  "config": {
    "view": {"stroke": "black", "strokeWidth": 1.6},
    "axis": {
      "domain": false,
      "grid": false,
      "ticks": true,
      "tickColor": "black",
      "tickWidth": 1.4,
      "tickSize": 7,
      "labelColor": "black",
      "titleColor": "black",
      "labelFont": "Liberation Serif",
      "titleFontWeight": "normal"
    },
    "axisX": {"labelFontSize": 40, "labelPadding": 7, "titleFont": "Liberation Serif", "titleFontSize": 58, "titlePadding": 2},
    "axisY": {"labelFontSize": 24, "labelPadding": 8, "titleFont": "DejaVu Serif", "titleFontSize": 46, "titleX": -79},
    "legend": {
      "symbolType": "M-3,0H3",
      "symbolSize": 484,
      "symbolStrokeWidth": 5,
      "symbolOpacity": 1,
      "symbolOffset": 16,
      "labelFont": "Liberation Serif",
      "labelFontSize": 39,
      "labelColor": "black",
      "labelOffset": 45,
      "labelLimit": 0,
      "rowPadding": 2,
      "padding": 6,
      "fillColor": "rgba(255,255,255,0.8)",
      "strokeColor": "#cccccc",
      "cornerRadius": 5
    }
  }
}
